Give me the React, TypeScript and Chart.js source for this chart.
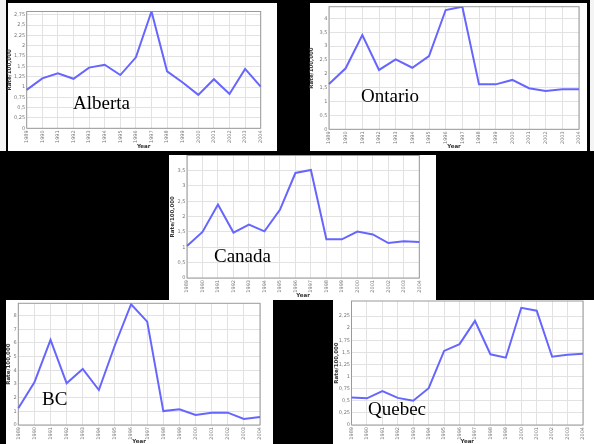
import React, { useEffect, useRef } from 'react';
import { Chart, registerables } from 'chart.js';

Chart.register(...registerables);

// ---- data ----
const years = ['1989', '1990', '1991', '1992', '1993', '1994', '1995', '1996', '1997', '1998', '1999', '2000', '2001', '2002', '2003', '2004'];
const albertaRates = [0.93, 1.21, 1.33, 1.2, 1.47, 1.54, 1.29, 1.72, 2.83, 1.38, 1.11, 0.81, 1.19, 0.83, 1.44, 1.01];
const ontarioRates = [1.63, 2.2, 3.4, 2.14, 2.52, 2.22, 2.64, 4.3, 4.42, 1.62, 1.62, 1.78, 1.48, 1.38, 1.44, 1.44];
const canadaRates = [1.04, 1.5, 2.39, 1.48, 1.74, 1.52, 2.22, 3.42, 3.52, 1.26, 1.26, 1.51, 1.42, 1.14, 1.2, 1.17];
const bcRates = [1.22, 3.12, 6.22, 3.05, 4.1, 2.56, 5.85, 8.83, 7.56, 1.02, 1.15, 0.73, 0.9, 0.9, 0.44, 0.59];
const quebecRates = [0.57, 0.55, 0.7, 0.56, 0.5, 0.76, 1.53, 1.67, 2.15, 1.46, 1.39, 2.42, 2.36, 1.41, 1.45, 1.47];
const regionNames = ['Alberta', 'Ontario', 'Canada', 'BC', 'Quebec'];
const axisMaxima = [2.83, 4.42, 3.99, 8.9, 2.56];
const tickSteps = [0.25, 0.5, 0.5, 1, 0.25];
const tickTops = [2.75, 4, 3.5, 8, 2.25];
const yTitle = 'Rate/100,000';
const xTitle = 'Year';

// ---- layout (page pixels) ----
const panels = [
  { x: 8, y: 3, w: 269, h: 148 },
  { x: 310, y: 3, w: 277, h: 148 },
  { x: 169, y: 155, w: 267, h: 145 },
  { x: 6, y: 300, w: 267, h: 144 },
  { x: 333, y: 300, w: 261, h: 144 },
];
const canvases = [
  { x: 6, y: 5, w: 271, h: 145, padTop: 6.5, padRight: 16.3, yW: 20.7, xH: 21.7 },
  { x: 308, y: 1, w: 279, h: 149, padTop: 5.7, padRight: 4.3, yW: 21, xH: 20.7 },
  { x: 169, y: 150, w: 267, h: 149, padTop: 5.5, padRight: 16.7, yW: 18, xH: 21 },
  { x: 5, y: 298, w: 268, h: 147, padTop: 5.3, padRight: 13, yW: 13.3, xH: 20 },
  { x: 333, y: 296, w: 261, h: 149, padTop: 5, padRight: 11, yW: 18.5, xH: 20 },
];
const labelSpots = [
  { x: 73, y: 93 },
  { x: 361, y: 86 },
  { x: 214, y: 246 },
  { x: 42, y: 389 },
  { x: 368, y: 399 },
];

const seriesList = [albertaRates, ontarioRates, canadaRates, bcRates, quebecRates];

const fmt = (v: number) => String(Math.round(v * 100) / 100).replace('.', ',');

const outlinePlugin = {
  id: 'plotOutline',
  beforeDatasetsDraw(chart: any) {
    const { ctx, chartArea: a } = chart;
    ctx.save();
    ctx.strokeStyle = '#9a9a9a';
    ctx.lineWidth = 1;
    ctx.strokeRect(a.left, a.top, a.right - a.left, a.bottom - a.top);
    ctx.restore();
  },
};

function RegionChart({ idx }: { idx: number }) {
  const ref = useRef<HTMLCanvasElement>(null);
  const spec = canvases[idx];
  useEffect(() => {
    const tickFont = { family: 'DejaVu Sans', size: 5 };
    const titleFont = { family: 'DejaVu Sans', size: 5.5, weight: 'bold' as const, lineHeight: 1.2 };
    const gridColor = '#e2e2e2';
    const chart = new Chart(ref.current as HTMLCanvasElement, {
      type: 'line',
      data: {
        labels: years,
        datasets: [
          {
            data: seriesList[idx],
            borderColor: '#6666ff',
            borderWidth: 2,
            pointRadius: 0,
            tension: 0,
            fill: false,
          },
        ],
      },
      options: {
        responsive: false,
        animation: false,
        devicePixelRatio: 1,
        layout: { padding: { left: 0, top: spec.padTop, right: spec.padRight, bottom: 0 } },
        plugins: { legend: { display: false }, tooltip: { enabled: false } },
        scales: {
          x: {
            type: 'category',
            offset: false,
            grid: { color: gridColor, drawTicks: false, offset: false },
            border: { display: false },
            ticks: {
              autoSkip: false,
              minRotation: 90,
              maxRotation: 90,
              padding: 2,
              font: tickFont,
              color: '#777',
            },
            title: { display: true, text: xTitle, font: titleFont, color: '#333', padding: 0 },
            afterFit: (s: any) => {
              s.height = spec.xH;
            },
          },
          y: {
            type: 'linear',
            min: 0,
            max: axisMaxima[idx],
            grid: { color: gridColor, drawTicks: false },
            border: { display: false },
            ticks: {
              stepSize: tickSteps[idx],
              includeBounds: false,
              padding: 1.5,
              font: tickFont,
              color: '#777',
              callback: (v: any) => fmt(Number(v)),
            },
            afterBuildTicks: (s: any) => {
              s.ticks = s.ticks.filter((t: any) => t.value <= tickTops[idx] + 1e-9);
            },
            title: { display: true, text: yTitle, font: titleFont, color: '#333', padding: 0 },
            afterFit: (s: any) => {
              s.width = spec.yW;
            },
          },
        },
      },
      plugins: [outlinePlugin],
    });
    return () => chart.destroy();
  }, [idx]);
  return (
    <canvas
      ref={ref}
      width={spec.w}
      height={spec.h}
      style={{ position: 'absolute', left: spec.x, top: spec.y, width: spec.w, height: spec.h, zIndex: 2 }}
    />
  );
}

export default function App() {
  return (
    <div
      style={{
        position: 'fixed',
        left: 0,
        top: 0,
        width: 594,
        height: 444,
        background: '#000',
        overflow: 'hidden',
      }}
    >
      <div style={{ position: 'absolute', left: 0, top: 0, width: 6, height: 151, background: '#f4f4f4' }} />
      <div style={{ position: 'absolute', left: 590, top: 0, width: 4, height: 151, background: '#f4f4f4' }} />
      {panels.map((p, i) => (
        <div
          key={'p' + i}
          style={{ position: 'absolute', left: p.x, top: p.y, width: p.w, height: p.h, background: '#fff', zIndex: 1 }}
        />
      ))}
      {regionNames.map((_, i) => (
        <RegionChart key={'c' + i} idx={i} />
      ))}
      {regionNames.map((name, i) => (
        <div
          key={'t' + i}
          style={{
            position: 'absolute',
            left: labelSpots[i].x,
            top: labelSpots[i].y,
            font: '19px "Liberation Serif"',
            lineHeight: '19px',
            color: '#000',
            whiteSpace: 'nowrap',
            zIndex: 3,
          }}
        >
          {name}
        </div>
      ))}
    </div>
  );
}
